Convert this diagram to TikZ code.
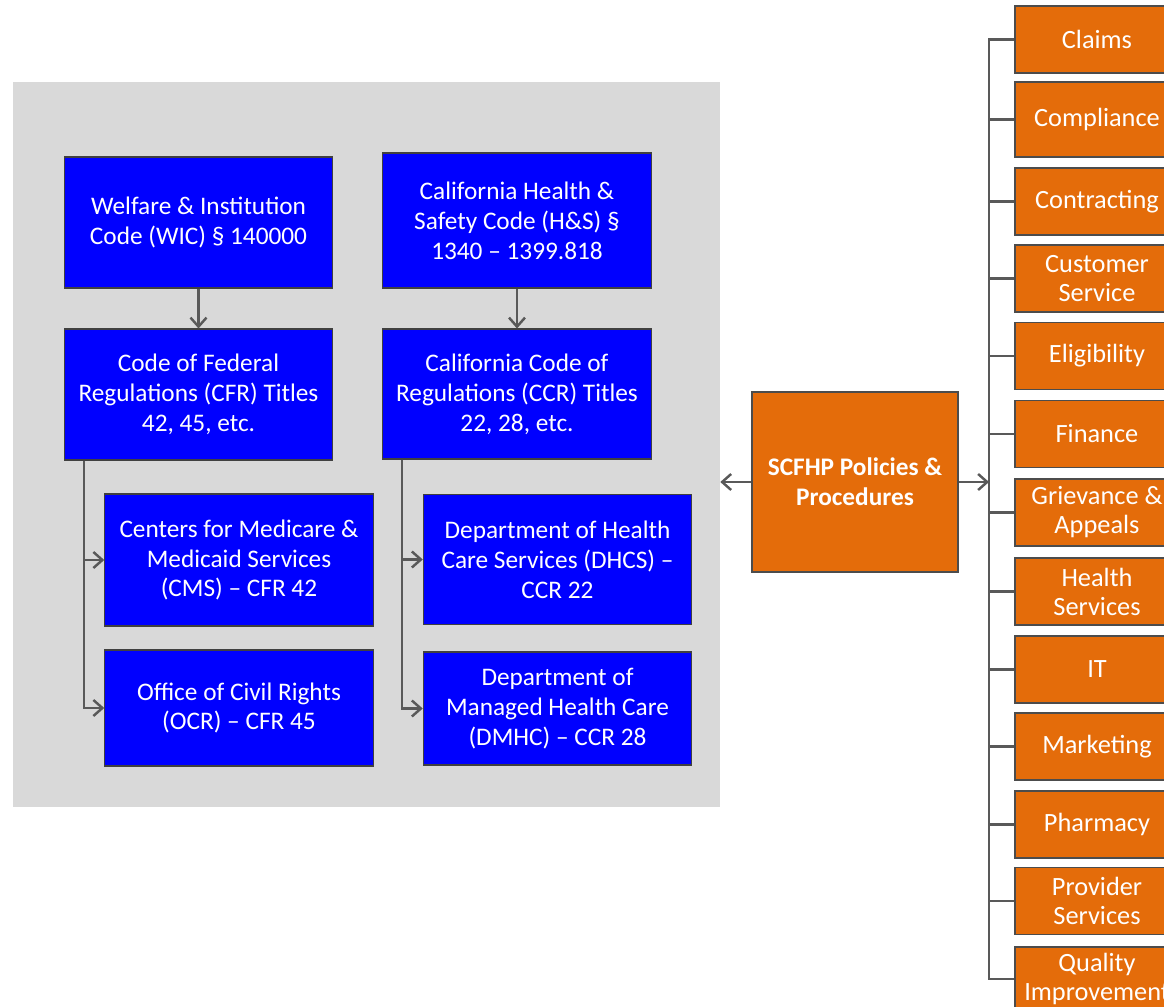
\documentclass[tikz,border=0pt]{standalone}
\usepackage{fontspec}
\setmainfont{Carlito}
\usetikzlibrary{arrows.meta}

\definecolor{regblue}{HTML}{0000FF}
\definecolor{deptorange}{HTML}{E46C0A}
\definecolor{backgray}{HTML}{D9D9D9}
\definecolor{linegray}{HTML}{595959}

\begin{document}
\begin{tikzpicture}[x=0.02cm, y=-0.02cm,
		regbox/.style={draw=black!75, line width=0.6pt, fill=regblue, text=white,
			align=center, inner sep=0pt, minimum width=5.37cm,
			font=\fontsize{14.4}{17}\selectfont},
		deptbox/.style={draw=black!70, line width=0.6pt, fill=deptorange, text=white,
			align=center, inner sep=0pt, minimum width=3.28cm, minimum height=1.34cm,
			font=\fontsize{15}{16.5}\selectfont},
		conn/.style={draw=linegray, line width=1.4pt},
		tip/.style={-{Straight Barb[length=1.8mm, width=3.2mm]}}]
	\clip (0,0) rectangle (1164,1007);
	
	%Gray background
	\node (regs) at (366.5,444.5) [fill=backgray, minimum width=14.14cm, minimum height=14.5cm] {};
	
	%Federal side
	\node (wic) at (198.5,222.5) [regbox, minimum height=2.62cm] {Welfare \& Institution\\Code (WIC) § 140000};
	\node (cfr) at (198.5,394.5) [regbox, minimum height=2.62cm] {Code of Federal\\Regulations (CFR) Titles\\42, 45, etc.};
	\node (cms) at (239,560) [regbox, minimum height=2.64cm] {Centers for Medicare \&\\Medicaid Services\\(CMS) – CFR 42};
	\node (ocr) at (239,708) [regbox, minimum height=2.32cm] {Office of Civil Rights\\(OCR) – CFR 45};
	
	%State side
	\node (hs) at (517,220.5) [regbox, minimum height=2.7cm] {California Health \&\\Safety Code (H\&S) §\\1340 – 1399.818};
	\node (ccr) at (517,394) [regbox, minimum height=2.6cm] {California Code of\\Regulations (CCR) Titles\\22, 28, etc.};
	\node (dhcs) at (557.5,559.5) [regbox, minimum height=2.6cm] {Department of Health\\Care Services (DHCS) –\\CCR 22};
	\node (dmhc) at (557.5,708.5) [regbox, minimum height=2.26cm] {Department of\\Managed Health Care\\(DMHC) – CCR 28};
	
	\draw[conn, tip] (wic) -- (cfr);
	\draw[conn, tip] (hs) -- (ccr);
	\draw[conn, tip] ([xshift=0.4cm]cfr.south west) |- (cms.west);
	\draw[conn, tip] ([xshift=0.4cm]cfr.south west) |- (ocr.west);
	\draw[conn, tip] ([xshift=0.4cm]ccr.south west) |- (dhcs.west);
	\draw[conn, tip] ([xshift=0.4cm]ccr.south west) |- (dmhc.west);
	
	%SCFHP
	\node (scfhp) at (855,482) [deptbox, minimum width=4.12cm, minimum height=3.6cm,
		font=\fontsize{14.4}{17}\selectfont\bfseries] {SCFHP Policies \&\\Procedures};
	\draw[conn, tip] (scfhp.west) -- (scfhp.west -| regs.east);
	
	%Departments
	\coordinate (bus) at (989,482);
	\node (claims) at (1097,39.5) [deptbox] {Claims};
	\node (compliance) at (1097,119.5) [deptbox, minimum height=1.5cm] {Compliance};
	\node (contracting) at (1097,201.5) [deptbox] {Contracting};
	\node (customer) at (1097,278.5) [deptbox] {Customer\\Service};
	\node (eligibility) at (1097,356) [deptbox] {Eligibility};
	\node (finance) at (1097,434) [deptbox] {Finance};
	\node (grievance) at (1097,512.5) [deptbox] {Grievance \&\\Appeals};
	\node (health) at (1097,591.5) [deptbox] {Health\\Services};
	\node (it) at (1097,669.5) [deptbox] {IT};
	\node (marketing) at (1097,746.5) [deptbox] {Marketing};
	\node (pharmacy) at (1097,824.5) [deptbox] {Pharmacy};
	\node (provider) at (1097,901) [deptbox] {Provider\\Services};
	\node (quality) at (1097,979) [deptbox, minimum height=1.28cm] {Quality\\Improvement};
	
	\draw[conn] (claims.west) -| (bus);
	\draw[conn] (compliance.west) -| (bus);
	\draw[conn] (contracting.west) -| (bus);
	\draw[conn] (customer.west) -| (bus);
	\draw[conn] (eligibility.west) -| (bus);
	\draw[conn] (finance.west) -| (bus);
	\draw[conn] (grievance.west) -| (bus);
	\draw[conn] (health.west) -| (bus);
	\draw[conn] (it.west) -| (bus);
	\draw[conn] (marketing.west) -| (bus);
	\draw[conn] (pharmacy.west) -| (bus);
	\draw[conn] (provider.west) -| (bus);
	\draw[conn] (quality.west) -| (bus);
	\draw[conn, tip] (scfhp.east) -- (bus);
	
\end{tikzpicture}
\end{document}
